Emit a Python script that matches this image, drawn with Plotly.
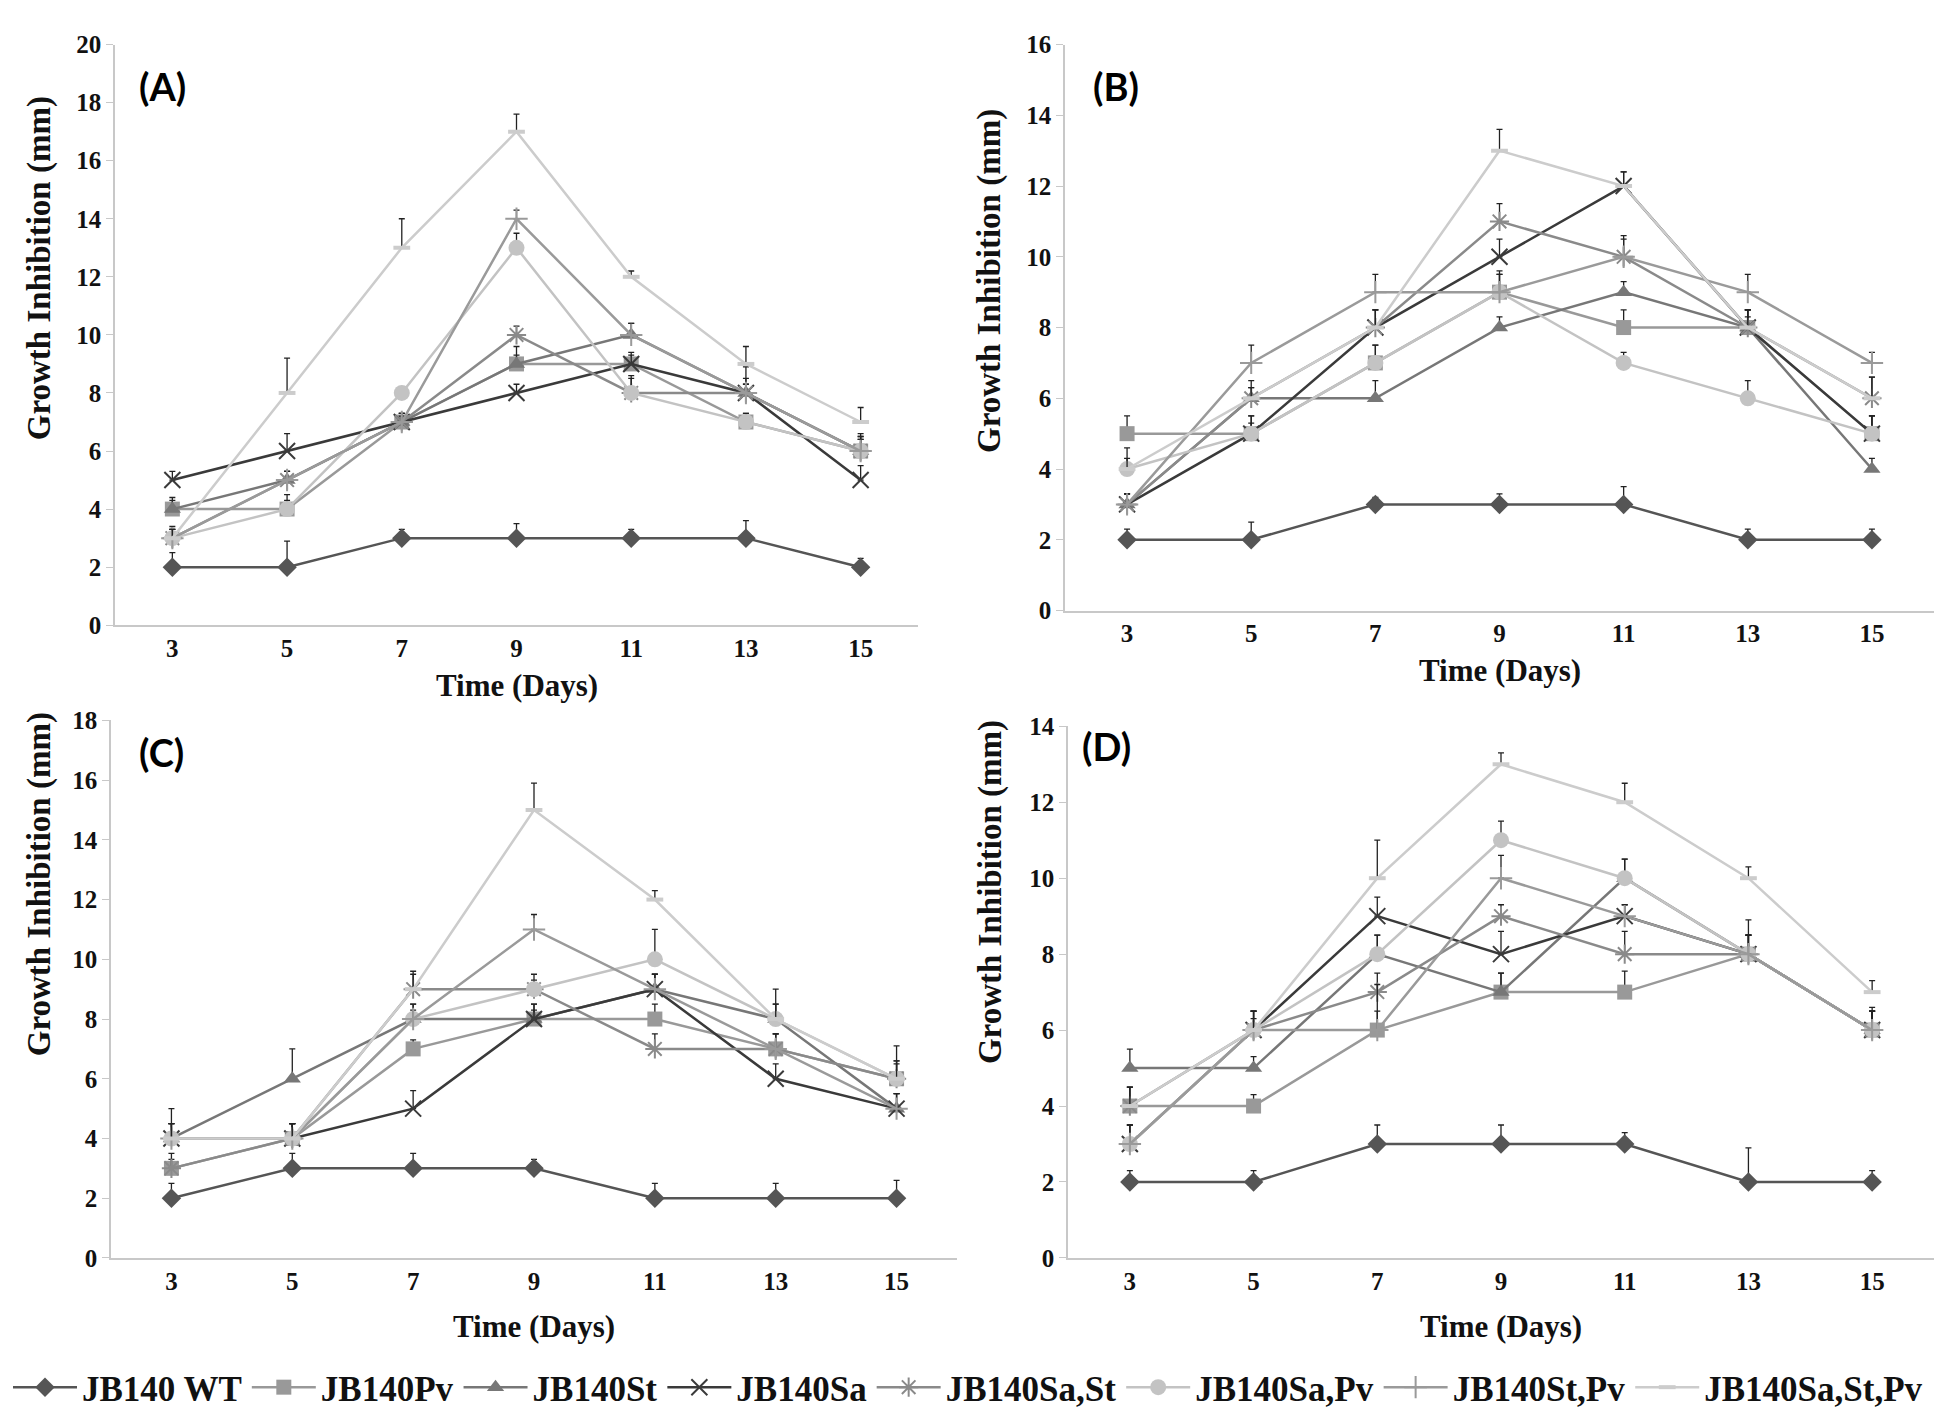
import plotly.graph_objects as go

# --- data ---------------------------------------------------------------
days = [3, 5, 7, 9, 11, 13, 15]
strains = ["JB140 WT", "JB140Pv", "JB140St", "JB140Sa", "JB140Sa,St",
           "JB140Sa,Pv", "JB140St,Pv", "JB140Sa,St,Pv"]

# mean growth inhibition (mm), one row per strain in the order above
panel_a_means = [
    [2, 2, 3, 3, 3, 3, 2],
    [4, 4, 7, 9, 9, 7, 6],
    [4, 5, 7, 9, 10, 8, 6],
    [5, 6, 7, 8, 9, 8, 5],
    [3, 5, 7, 10, 8, 8, 6],
    [3, 4, 8, 13, 8, 7, 6],
    [3, 5, 7, 14, 10, 8, 6],
    [3, 8, 13, 17, 12, 9, 7],
]
panel_a_err = [
    [0.5, 0.9, 0.3, 0.5, 0.3, 0.6, 0.3],
    [0.4, 0.5, 0.2, 0.6, 0.3, 0.3, 0.5],
    [0.3, 0.3, 0.3, 0.3, 0.4, 0.5, 0.4],
    [0.3, 0.6, 0.2, 0.3, 0.4, 0.9, 0.5],
    [0.4, 0.3, 0.3, 0.3, 0.5, 0.3, 0.6],
    [0.3, 0.3, 0.2, 0.5, 0.6, 0.3, 0.5],
    [0.3, 0.3, 0.3, 0.3, 0.4, 0.3, 0.4],
    [0.3, 1.2, 1.0, 0.6, 0.2, 0.6, 0.5],
]

panel_b_means = [
    [2, 2, 3, 3, 3, 2, 2],
    [5, 5, 7, 9, 8, 8, 5],
    [3, 6, 6, 8, 9, 8, 4],
    [3, 5, 8, 10, 12, 8, 5],
    [3, 6, 8, 11, 10, 8, 6],
    [4, 5, 7, 9, 7, 6, 5],
    [3, 7, 9, 9, 10, 9, 7],
    [4, 6, 8, 13, 12, 8, 6],
]
panel_b_err = [
    [0.3, 0.5, 0.2, 0.3, 0.5, 0.3, 0.3],
    [0.5, 0.3, 0.5, 0.6, 0.5, 0.3, 0.5],
    [0.3, 0.3, 0.5, 0.3, 0.3, 0.5, 0.3],
    [0.3, 0.5, 0.5, 0.5, 0.4, 0.5, 0.5],
    [0.3, 0.5, 0.5, 0.5, 0.6, 0.5, 0.6],
    [0.6, 0.5, 0.5, 0.5, 0.3, 0.5, 0.5],
    [0.3, 0.5, 0.5, 0.5, 0.5, 0.5, 0.3],
    [0.3, 0.3, 0.5, 0.6, 0.4, 0.5, 0.6],
]

panel_c_means = [
    [2, 3, 3, 3, 2, 2, 2],
    [3, 4, 7, 8, 8, 7, 6],
    [4, 6, 8, 8, 9, 8, 5],
    [4, 4, 5, 8, 9, 6, 5],
    [3, 4, 9, 9, 7, 7, 6],
    [4, 4, 8, 9, 10, 8, 6],
    [4, 4, 8, 11, 9, 7, 5],
    [4, 4, 9, 15, 12, 8, 6],
]
panel_c_err = [
    [0.5, 0.5, 0.5, 0.3, 0.5, 0.5, 0.6],
    [0.5, 0.5, 0.3, 0.5, 0.5, 0.5, 0.6],
    [1.0, 1.0, 0.3, 0.3, 0.5, 0.5, 0.5],
    [0.5, 0.5, 0.6, 0.5, 0.5, 0.5, 0.5],
    [0.3, 0.5, 0.5, 0.3, 0.5, 0.5, 0.6],
    [0.5, 0.5, 0.5, 0.5, 1.0, 0.5, 0.5],
    [0.5, 0.5, 0.5, 0.5, 0.5, 0.5, 0.5],
    [0.5, 0.5, 0.6, 0.9, 0.3, 1.0, 1.1],
]

panel_d_means = [
    [2, 2, 3, 3, 3, 2, 2],
    [4, 4, 6, 7, 7, 8, 6],
    [5, 5, 8, 7, 10, 8, 6],
    [3, 6, 9, 8, 9, 8, 6],
    [4, 6, 7, 9, 8, 8, 6],
    [3, 6, 8, 11, 10, 8, 6],
    [3, 6, 6, 10, 9, 8, 6],
    [4, 6, 10, 13, 12, 10, 7],
]
panel_d_err = [
    [0.3, 0.3, 0.5, 0.5, 0.3, 0.9, 0.3],
    [0.5, 0.3, 0.5, 0.5, 0.55, 0.5, 0.5],
    [0.5, 0.3, 0.5, 0.5, 0.5, 0.5, 0.5],
    [0.5, 0.3, 0.5, 0.6, 0.3, 0.5, 0.5],
    [0.5, 0.5, 0.5, 0.3, 0.6, 0.5, 0.6],
    [0.5, 0.5, 0.5, 0.5, 0.5, 0.5, 0.5],
    [0.5, 0.5, 1.2, 0.6, 0.3, 0.9, 0.5],
    [0.5, 0.5, 1.0, 0.3, 0.5, 0.3, 0.3],
]

panel_labels = ["(A)", "(B)", "(C)", "(D)"]
y_max = [20, 16, 18, 14]

# --- styles -------------------------------------------------------------
colors = ["#555555", "#999999", "#777777", "#3a3a3a", "#8a8a8a",
          "#c3c3c3", "#9a9a9a", "#cccccc"]
symbols = ["diamond", "square", "triangle-up", "x-thin-open", "asterisk-open",
           "circle", "cross-thin-open", "line-ew-open"]
sizes = [15, 15, 15, 16, 16, 16, 16, 12]
marker_lw = [0, 0, 0, 2, 2, 0, 2, 4]

SERIF = "Liberation Serif"
INK = "#111111"

panels = [
    (panel_a_means, panel_a_err),
    (panel_b_means, panel_b_err),
    (panel_c_means, panel_c_err),
    (panel_d_means, panel_d_err),
]

# pixel geometry in the 1944x1415 page
W, H = 1944, 1415
boxes = [  # (left, right, top, bottom) of each plot area in px
    (107, 910, 24, 616),
    (1057, 1926, 24, 601),
    (103, 949, 713, 1261),
    (1060, 1926, 719, 1261),
]
label_pos = [(154, 66), (1108, 66), (153, 745), (1098, 739)]
ytitle_pos = [(31, 252), (982, 265), (31, 880), (982, 888)]
xtitle_y = [677, 662, 1331, 1331]


def px(x, y):
    return x / W, 1 - y / H


fig = go.Figure()

for p, (means, errs) in enumerate(panels):
    ax = "" if p == 0 else str(p + 1)
    for i, name in enumerate(strains):
        fig.add_trace(go.Scatter(
            x=days, y=means[i],
            name="<b>" + name + "</b>",
            legendgroup=name,
            showlegend=(p == 0),
            mode="lines+markers",
            line=dict(color=colors[i], width=2.5),
            marker=dict(symbol=symbols[i], size=sizes[i], color=colors[i],
                        line=dict(color=colors[i], width=marker_lw[i])),
            error_y=dict(type="data", array=errs[i], symmetric=False,
                         arrayminus=[0] * len(days),
                         color="#222222", thickness=1.3, width=3),
            xaxis="x" + ax, yaxis="y" + ax,
        ))

    l, r, t, b = boxes[p]
    tick_font = dict(family=SERIF, size=25, color=INK, weight="bold")
    fig.layout["xaxis" + ax] = dict(
        domain=[l / W, r / W], anchor="y" + ax,
        range=[2, 16], tickvals=days, showgrid=False, zeroline=False,
        showline=True, linecolor="#c8c8c8", linewidth=1.5, ticks="",
        tickfont=tick_font,
    )
    fig.layout["yaxis" + ax] = dict(
        domain=[1 - b / H, 1 - t / H], anchor="x" + ax,
        range=[0, y_max[p]], dtick=2, showgrid=False, zeroline=False,
        showline=True, linecolor="#c8c8c8", linewidth=1.5,
        ticks="outside", ticklen=7, tickcolor="#c8c8c8",
        tickfont=tick_font,
    )

    # axis titles
    xt, yt = px((l + r) / 2, xtitle_y[p])
    fig.add_annotation(
        text="<b>Time (Days)</b>", xref="paper", yref="paper",
        x=xt, y=yt, xanchor="center", yanchor="middle", showarrow=False,
        font=dict(family=SERIF, size=31, color=INK),
    )
    xt, yt = px(*ytitle_pos[p])
    fig.add_annotation(
        text="<b>Growth Inhibition (mm)</b>", xref="paper", yref="paper",
        x=xt, y=yt, xanchor="center", yanchor="middle",
        textangle=-90, showarrow=False,
        font=dict(family=SERIF, size=33, color=INK),
    )
    # panel label
    xt, yt = px(*label_pos[p])
    fig.add_annotation(
        text="<b>" + panel_labels[p] + "</b>", xref="paper", yref="paper",
        x=xt, y=yt, xanchor="center", yanchor="middle", showarrow=False,
        font=dict(family="Lato", size=38, color="#000000"),
    )

fig.update_layout(
    width=W, height=H,
    margin=dict(l=0, r=0, t=0, b=0),
    paper_bgcolor="white", plot_bgcolor="white",
    legend=dict(
        orientation="h", x=0.0, y=1 - 1393 / H, yanchor="middle", xanchor="left",
        font=dict(family=SERIF, size=35, color=INK),
        itemwidth=64, tracegroupgap=0,
    ),
)

fig.write_html("out.html")
